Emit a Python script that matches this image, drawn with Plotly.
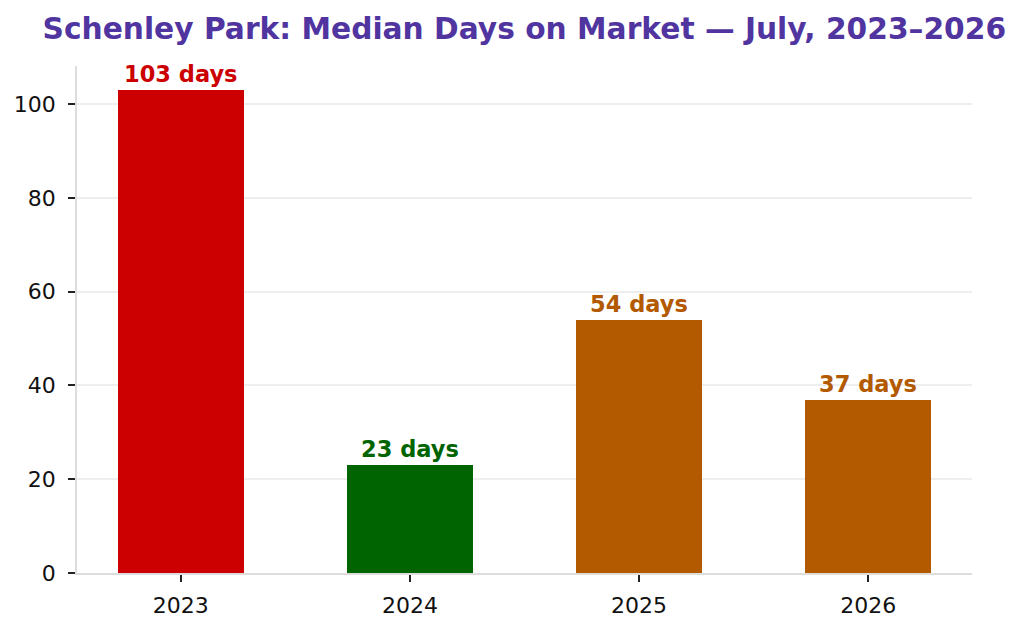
import plotly.graph_objects as go

years = ["2023", "2024", "2025", "2026"]
median_days = [103, 23, 54, 37]
bar_colors = ["#cc0000", "#006400", "#b35900", "#b35900"]
labels = [f"{d} days" for d in median_days]

fig = go.Figure()
fig.add_trace(go.Bar(
    x=list(range(len(years))),
    y=median_days,
    width=0.55,
    marker=dict(color=bar_colors, line=dict(width=0)),
    showlegend=False,
    hoverinfo="skip",
))

for i, (d, lab, c) in enumerate(zip(median_days, labels, bar_colors)):
    fig.add_annotation(x=i, y=d, text=f"<b>{lab}</b>", showarrow=False,
                       yanchor="bottom", yshift=1,
                       font=dict(family="DejaVu Sans", size=22.5, color=c))

fig.update_layout(
    width=1024, height=630,
    margin=dict(l=77, r=52, t=66, b=55),
    plot_bgcolor="white", paper_bgcolor="white",
    font=dict(family="DejaVu Sans", size=22, color="#111111"),
    title=dict(text="<b>Schenley Park: Median Days on Market — July, 2023–2026</b>",
               x=0.512, xanchor="center", y=0.954, yanchor="middle",
               font=dict(family="DejaVu Sans", size=29.7, color="#5034a0")),
    bargap=0,
)
fig.update_xaxes(
    range=[-0.4525, 3.4525],
    tickmode="array", tickvals=list(range(len(years))), ticktext=years,
    ticks="outside", ticklen=7, tickcolor="#222222", tickwidth=1.5,
    ticklabelstandoff=5,
    showline=True, linecolor="#dddddd", linewidth=1.5,
    showgrid=False, zeroline=False,
)
fig.update_yaxes(
    range=[0, 108.15],
    tickvals=[0, 20, 40, 60, 80, 100],
    ticks="outside", ticklen=7, tickcolor="#222222", tickwidth=1.5,
    ticklabelstandoff=8,
    showline=True, linecolor="#dddddd", linewidth=1.5,
    showgrid=True, gridcolor="#eeeeee", gridwidth=1.5,
    zeroline=False,
)

# drop the default 8px body margin so the figure fills the window exactly
fig.write_html("out.html", config={"displayModeBar": False},
               post_script="document.body.style.margin='0';")
